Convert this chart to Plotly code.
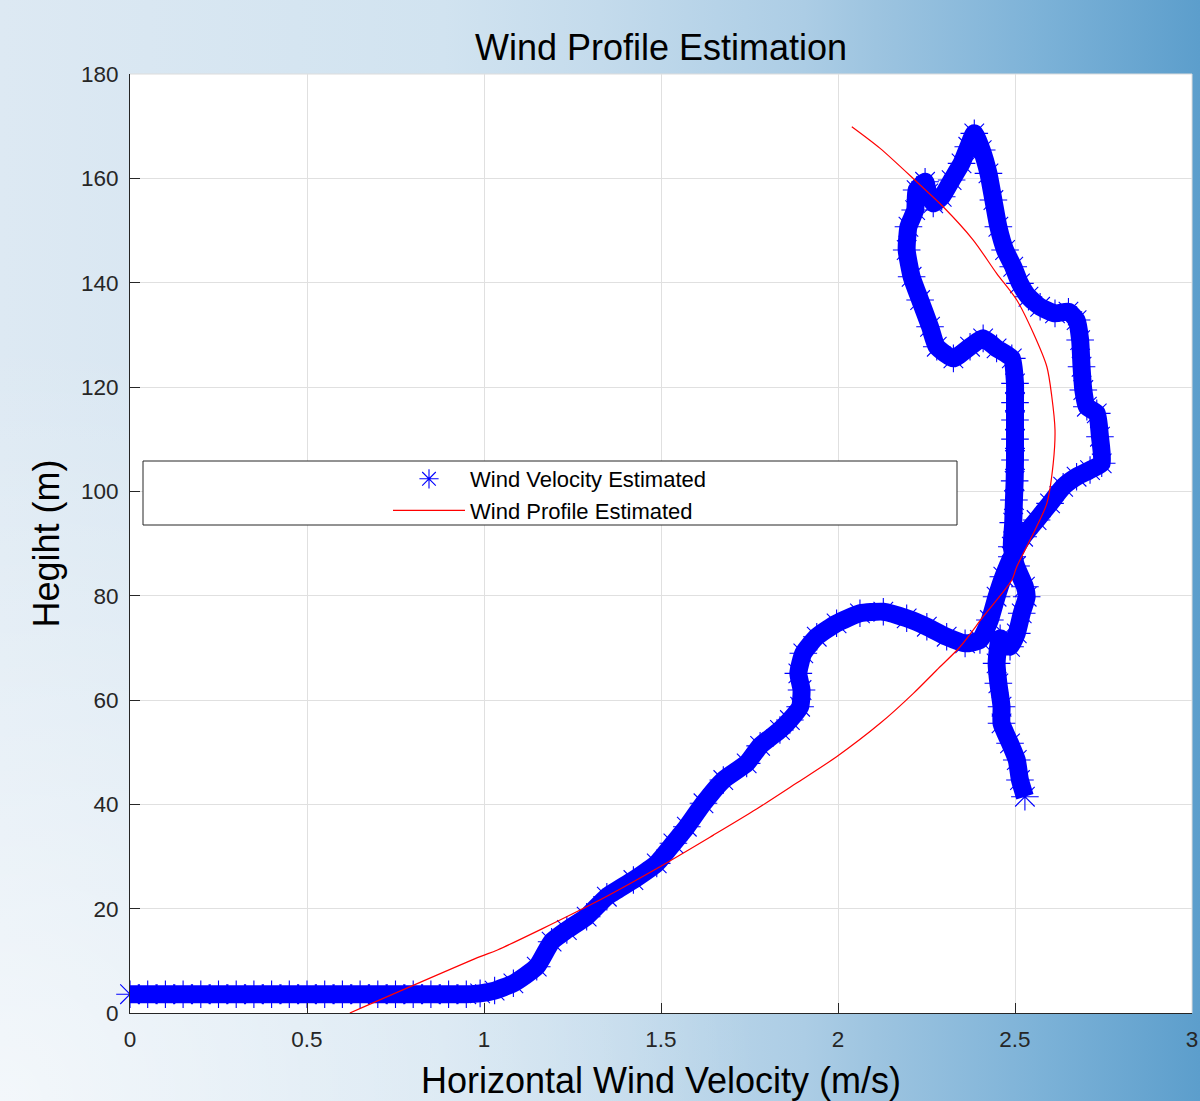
import base64
import plotly.graph_objects as go

# ---------------- data ----------------
vel_measured = [
    0.00, 0.05, 0.10, 0.15, 0.20, 0.25, 0.30, 0.35, 0.40, 0.45, 0.50, 0.55,
    0.60, 0.65, 0.70, 0.75, 0.80, 0.85, 0.90, 0.95, 0.989,
    1.030, 1.083, 1.149, 1.191, 1.234, 1.290, 1.347, 1.422, 1.488, 1.535,
    1.573, 1.620, 1.676, 1.742, 1.780, 1.836, 1.864, 1.893, 1.897, 1.888,
    1.902, 1.940, 1.996, 2.062, 2.128, 2.194, 2.251, 2.307, 2.359, 2.401,
    2.429, 2.448, 2.467, 2.491, 2.523, 2.561, 2.599, 2.636, 2.674, 2.712,
    2.745, 2.740, 2.731, 2.703, 2.693, 2.688, 2.684, 2.674, 2.651, 2.613,
    2.571, 2.538, 2.514, 2.495, 2.472, 2.453, 2.439, 2.425, 2.406, 2.385,
    2.368, 2.349, 2.321, 2.293, 2.269, 2.255, 2.246, 2.222, 2.218, 2.199,
    2.194, 2.208, 2.232, 2.260, 2.279, 2.326, 2.373, 2.410, 2.448, 2.491,
    2.500, 2.500, 2.500, 2.500, 2.500, 2.499, 2.497, 2.495, 2.491, 2.503,
    2.528, 2.533, 2.519, 2.505, 2.486, 2.458, 2.448, 2.453, 2.462, 2.462,
    2.486, 2.505, 2.514, 2.528,
]
height_measured = [
    3.6, 3.6, 3.6, 3.6, 3.6, 3.6, 3.6, 3.6, 3.6, 3.6, 3.6, 3.6,
    3.6, 3.6, 3.6, 3.6, 3.6, 3.6, 3.6, 3.6, 3.77,
    4.30, 5.69, 8.88, 13.67, 15.91, 18.46, 22.29, 25.49, 28.69, 32.53,
    35.71, 40.20, 44.66, 47.86, 51.20, 54.25, 56.16, 58.71, 61.91, 65.11,
    68.95, 72.13, 74.70, 76.62, 76.92, 75.66, 74.05, 72.13, 70.86, 71.50,
    75.33, 79.80, 83.63, 87.46, 91.30, 94.50, 97.70, 100.88, 102.80, 104.08,
    105.37, 110.47, 114.95, 116.22, 119.42, 123.88, 129.00, 132.83, 134.43, 134.12,
    135.38, 137.30, 139.87, 143.05, 146.26, 150.72, 155.84, 160.95, 165.42, 168.62,
    166.05, 162.87, 159.67, 156.47, 155.20, 157.12, 159.34, 157.75, 153.92, 150.72,
    146.26, 141.13, 136.67, 131.55, 127.72, 125.49, 127.72, 129.33, 127.41, 125.49,
    120.70, 117.00, 113.67, 110.00, 106.00, 102.00, 98.33, 94.00, 89.38, 85.68,
    81.71, 79.80, 76.62, 72.78, 70.21, 71.82, 67.03, 63.20, 58.71, 55.53,
    51.70, 48.50, 44.66, 41.46,
]

height_profile = [
    0.0, 10.8, 12.08, 21.03, 28.05, 34.1, 39.1, 44.03, 49.13, 55.53,
    61.28, 65.75, 70.21, 75.96, 83.0, 85.55, 93.21, 97.70, 105.37, 111.75,
    118.13, 123.88, 130.29, 136.67, 141.79, 148.17, 154.55, 159.35, 165.74, 169.89,
]
vel_profile = [
    0.621, 0.989, 1.038, 1.309, 1.497, 1.648, 1.770, 1.882, 1.996, 2.119,
    2.213, 2.279, 2.345, 2.410, 2.491, 2.505, 2.561, 2.590, 2.608, 2.613,
    2.604, 2.590, 2.552, 2.505, 2.448, 2.382, 2.297, 2.222, 2.119, 2.039,
]

x_ticks = [0, 0.5, 1, 1.5, 2, 2.5, 3]
x_tick_labels = ["0", "0.5", "1", "1.5", "2", "2.5", "3"]
y_ticks = [0, 20, 40, 60, 80, 100, 120, 140, 160, 180]
y_tick_labels = ["0", "20", "40", "60", "80", "100", "120", "140", "160", "180"]

# ---------------- layout constants ----------------
W, H = 1200, 1101
ML, MR, MT, MB = 130, 8, 74, 88
PW, PH = W - ML - MR, H - MT - MB
FONT = "Liberation Sans, Arial, Helvetica, sans-serif"
AX = "#262626"

svg = f"""<svg xmlns='http://www.w3.org/2000/svg' width='{W}' height='{H}' preserveAspectRatio='none'>
<defs>
<linearGradient id='g' x1='0' y1='0' x2='{W}' y2='0' gradientUnits='userSpaceOnUse'>
<stop offset='0' stop-color='#dde9f3'/>
<stop offset='0.37' stop-color='#d1e3f0'/>
<stop offset='0.5' stop-color='#c4dbec'/>
<stop offset='0.67' stop-color='#accde5'/>
<stop offset='0.73' stop-color='#9dc4e0'/>
<stop offset='0.86' stop-color='#7eb3d8'/>
<stop offset='1' stop-color='#5c9ecc'/>
</linearGradient>
<radialGradient id='w' cx='0' cy='{H}' r='760' gradientUnits='userSpaceOnUse'>
<stop offset='0' stop-color='#ffffff' stop-opacity='0.65'/>
<stop offset='1' stop-color='#ffffff' stop-opacity='0'/>
</radialGradient>
</defs>
<rect width='{W}' height='{H}' fill='url(#g)'/>
<rect width='{W}' height='{H}' fill='url(#w)'/>
</svg>"""
bg_src = "data:image/svg+xml;base64," + base64.b64encode(svg.encode()).decode()

fig = go.Figure()

# thick trail under the markers (dense flight track)
fig.add_trace(go.Scatter(
    x=vel_measured, y=height_measured, mode="lines",
    line=dict(color="#0000ff", width=18, shape="spline", smoothing=0.5),
    showlegend=False, hoverinfo="skip",
))
fig.add_trace(go.Scatter(
    x=vel_measured, y=height_measured, mode="markers",
    name="Wind Velocity Estimated",
    marker=dict(symbol="asterisk-open", size=23, color="#0000ff",
                line=dict(color="#0000ff", width=1.1)),
    cliponaxis=False,
))
fig.add_trace(go.Scatter(
    x=vel_profile, y=height_profile, mode="lines",
    name="Wind Profile Estimated",
    line=dict(color="#ff0000", width=1.2, shape="spline", smoothing=0.8),
))

# legend box
lx0, lx1, ly0, ly1 = 143, 957, 461, 525
fig.add_shape(type="rect", xref="paper", yref="paper",
              x0=(lx0 - ML) / PW, x1=(lx1 - ML) / PW,
              y0=(H - MB - ly1) / PH, y1=(H - MB - ly0) / PH,
              fillcolor="white", line=dict(color="#262626", width=1), layer="above")
# white plot area above the background picture
fig.add_shape(type="rect", xref="paper", yref="paper", x0=0, x1=1, y0=0, y1=1,
              fillcolor="white", line=dict(width=0), layer="below")
# light frame on the top and right edges (grid lines at the limits)
fig.add_shape(type="line", xref="paper", yref="paper", x0=0, x1=1, y0=1, y1=1,
              line=dict(color="#dcdcdc", width=1), layer="below")
fig.add_shape(type="line", xref="paper", yref="paper", x0=1, x1=1, y0=0, y1=1,
              line=dict(color="#dcdcdc", width=1), layer="below")

fig.add_layout_image(dict(
    source=bg_src, xref="paper", yref="paper",
    x=-ML / PW, y=1 + MT / PH, sizex=W / PW, sizey=H / PH,
    xanchor="left", yanchor="top", sizing="stretch", layer="below",
))

axis_common = dict(
    showgrid=True, gridcolor="#e0e0e0", gridwidth=1,
    showline=True, linecolor=AX, linewidth=1, mirror=False,
    ticks="inside", ticklen=10, tickcolor=AX, tickwidth=1,
    zeroline=False, automargin=False,
    tickfont=dict(family=FONT, size=22.5, color=AX),
)

fig.update_layout(
    width=W, height=H, autosize=False,
    margin=dict(l=ML, r=MR, t=MT, b=MB, pad=0, autoexpand=False),
    paper_bgcolor="#e8f1f8", plot_bgcolor="white",
    font=dict(family=FONT, color="black"),
    title=dict(text="Wind Profile Estimation", x=0.5, xref="paper",
               y=1 - 47 / H, yanchor="middle",
               font=dict(family=FONT, size=36, color="black")),
    xaxis=dict(range=[0, 3], tickvals=x_ticks, ticktext=x_tick_labels,
               title=dict(text="Horizontal Wind Velocity (m/s)", standoff=16,
                          font=dict(family=FONT, size=36, color="black")),
               ticklabelstandoff=6,
               **axis_common),
    yaxis=dict(range=[0, 180], tickvals=y_ticks, ticktext=y_tick_labels,
               title=dict(text="Hegiht (m)", standoff=10,
                          font=dict(family=FONT, size=36, color="black")),
               ticklabelstandoff=6,
               **axis_common),
    legend=dict(x=(388 - ML) / PW, xanchor="left",
                y=(H - MB - 458) / PH, yanchor="top",
                bgcolor="rgba(0,0,0,0)", borderwidth=0,
                itemwidth=72, tracegroupgap=0,
                font=dict(family=FONT, size=22, color="black")),
    showlegend=True,
)

fig.write_html(
    "out.html",
    config={"displayModeBar": False, "responsive": False},
    post_script="document.body.style.margin='0px';document.body.style.overflow='hidden';",
)
